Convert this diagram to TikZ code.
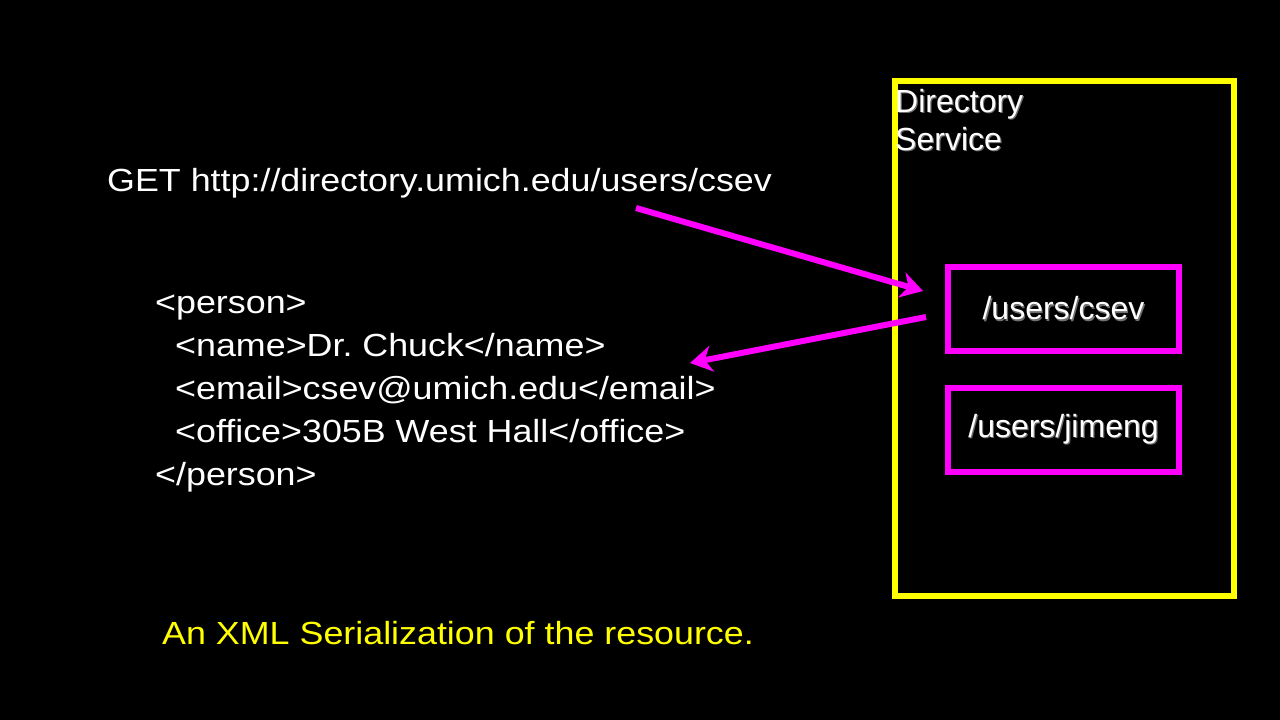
\documentclass[tikz,border=0pt]{standalone}
\usepackage{fontspec}
\setmainfont{Liberation Sans}
\newfontfamily\widesans{Liberation Sans}[FakeStretch=1.12]
\usetikzlibrary{positioning,arrows.meta,calc}
\definecolor{slidebg}{HTML}{000000}
\definecolor{hotpink}{HTML}{FF00FF}
\definecolor{brightyel}{HTML}{FFFF00}
\definecolor{shadowgray}{HTML}{6F6F6F}
\newcommand{\shadowed}[1]{\leavevmode\rlap{\kern1.2pt\raisebox{-1.2pt}{\textcolor{shadowgray}{#1}}}#1}
\frenchspacing

\begin{document}
\begin{tikzpicture}[
  x=1pt, y=-1pt,
  lefttxt/.style={text=white, inner sep=0pt, align=left,
                  font=\widesans\fontsize{32}{43}\selectfont},
  righttxt/.style={text=white, inner sep=0pt, align=left,
                   font=\fontsize{32}{38}\selectfont},
  svcbox/.style={draw=brightyel, line width=6pt},
  resbox/.style={draw=hotpink, line width=6pt, minimum width=231pt,
                 minimum height=84pt, inner sep=0pt,
                 font=\fontsize{32}{38}\selectfont, text=white},
  arr/.style={-{Stealth[length=22pt, width=26pt, inset=7pt]},
              line width=6pt, draw=hotpink},
]
\fill[slidebg] (0,0) rectangle (1280,720);
\useasboundingbox (0,0) rectangle (1280,720);

% ─── request and reply (left) ──────────────────────────────────────────────
\node[lefttxt, anchor=base west] (get) at (107,191)
  {GET http://directory.umich.edu/users/csev};
\node[lefttxt, anchor=base west] (xml) at (155,485)
  {<person>\\
   \hspace*{20pt}<name>Dr. Chuck</name>\\
   \hspace*{20pt}<email>csev@umich.edu</email>\\
   \hspace*{20pt}<office>305B West Hall</office>\\
   </person>};
\node[lefttxt, text=brightyel, anchor=base west] (caption) at (162,644)
  {An XML Serialization of the resource.};

% ─── directory service (right) ─────────────────────────────────────────────
\node[svcbox, minimum width=339pt, minimum height=515pt] (dir) at (1064.5,338.5) {};
\node[righttxt, anchor=base west] (dirlbl) at (895,150)
  {\shadowed{Directory}\\\shadowed{Service}};
\node[resbox] (csev) at (1063.5,309) {\shadowed{/users/csev}};
\node[resbox] (jimeng) at (1063.5,430) {\shadowed{/users/jimeng}};

% ─── arrows ────────────────────────────────────────────────────────────────
\coordinate (reqfrom) at (636,208);
\coordinate (replyto) at (690,363);
\draw[arr] (reqfrom) -- ($(csev.west)+(-22,-18)$);
\draw[arr] ($(csev.west)+(-19,8)$) -- (replyto);

\end{tikzpicture}
\end{document}
